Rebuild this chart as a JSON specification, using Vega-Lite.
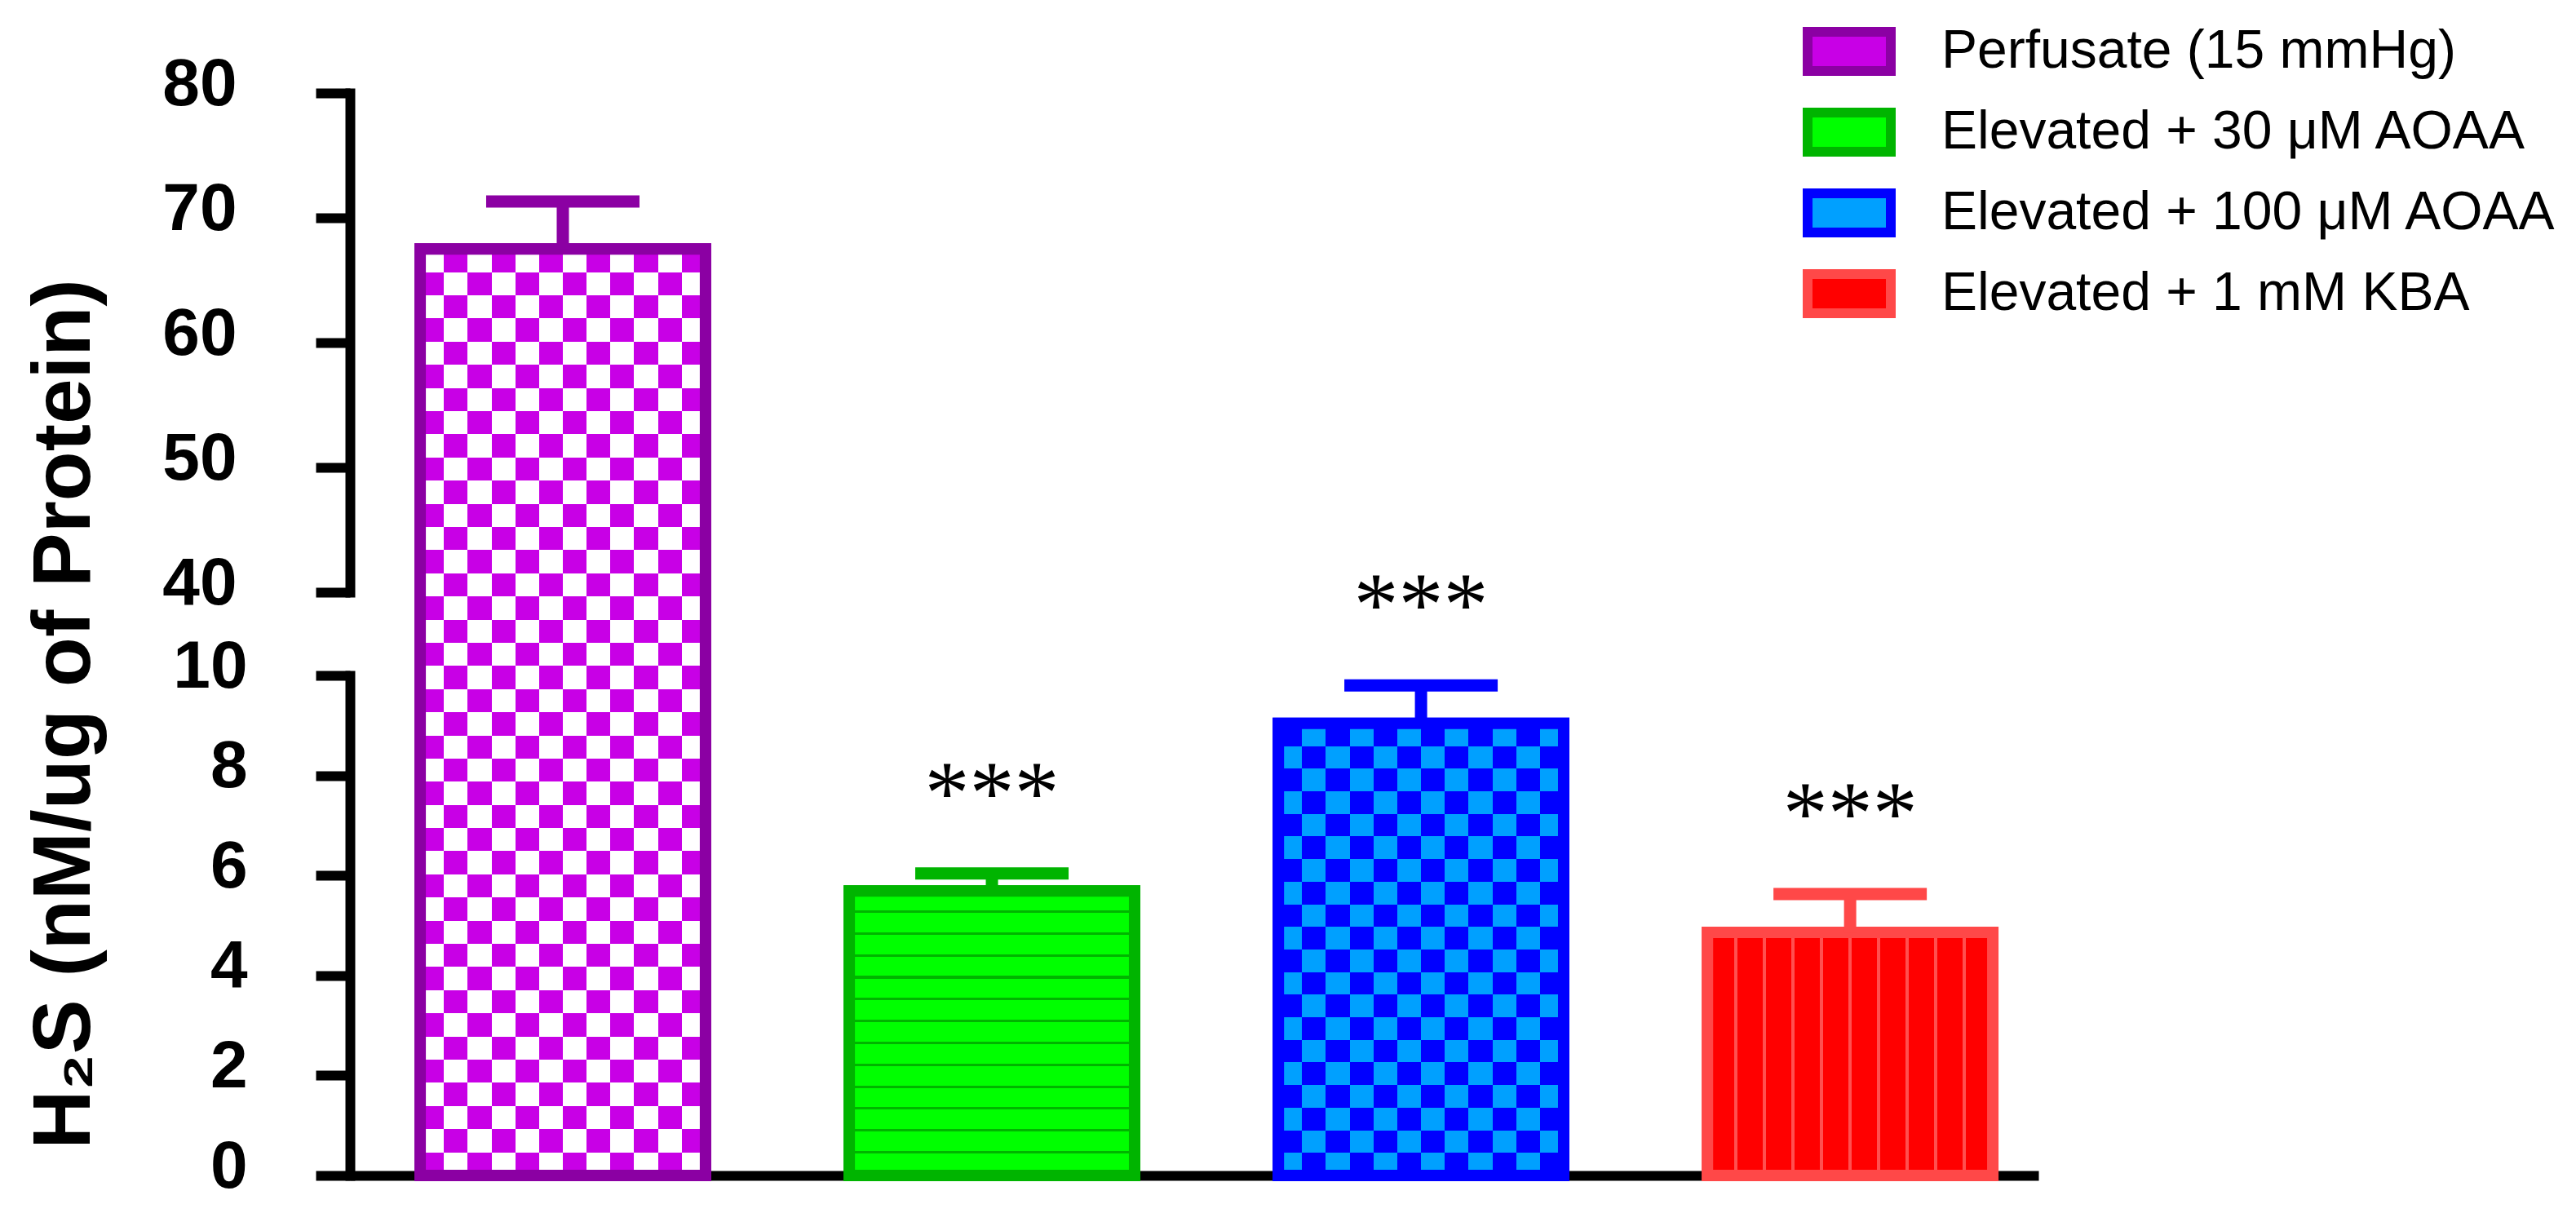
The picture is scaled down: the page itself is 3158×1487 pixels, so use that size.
{
  "$schema": "https://vega.github.io/schema/vega-lite/v6.json",
  "autosize": {"type": "none"},
  "padding": {"left": 429, "top": 114, "right": 659, "bottom": 46},
  "width": 2070,
  "height": 1327,
  "background": "white",
  "data": {"values": [
    {"group": "Perfusate (15 mmHg)", "value": 67.5, "upper": 71.3, "stars": ""},
    {"group": "Elevated + 30 μM AOAA", "value": 5.69, "upper": 6.04, "stars": "***"},
    {"group": "Elevated + 100 μM AOAA", "value": 9.04, "upper": 9.8, "stars": "***"},
    {"group": "Elevated + 1 mM KBA", "value": 4.86, "upper": 5.63, "stars": "***"}
  ]},
  "resolve": {"scale": {"y": "independent"}, "axis": {"y": "independent"}},
  "layer": [
    {
      "encoding": {
        "x": {"field": "group", "type": "nominal", "sort": null,
              "scale": {"paddingInner": 0.335, "paddingOuter": 0.135, "align": 0.606},
              "axis": {"title": null, "labels": false, "ticks": false, "domain": true, "domainColor": "#000", "domainWidth": 12, "grid": false}},
        "y": {"field": "value", "type": "quantitative",
              "scale": {"domain": [0, 10, 40, 80], "range": [1327, 714, 612, 0], "nice": false, "zero": false},
              "axis": null}
      },
      "layer": [
        {
          "mark": {"type": "bar", "strokeWidth": 14},
          "encoding": {
            "fill": {"field": "group", "type": "nominal",
                     "scale": {"domain": ["Perfusate (15 mmHg)", "Elevated + 30 μM AOAA", "Elevated + 100 μM AOAA", "Elevated + 1 mM KBA"],
                               "range": ["#c800e6", "#00ff00", "#00a0ff", "#ff0000"]},
                     "legend": {"title": null, "orient": "none", "legendX": 1787, "legendY": -102, "padding": 0,
                                "symbolType": "M-1.133,-0.533H1.133V0.533H-1.133Z", "symbolSize": 8100, "symbolStrokeWidth": 12, "symbolOpacity": 1,
                                "labelFont": "Liberation Sans", "labelFontSize": 66, "labelColor": "#000", "labelOffset": 62,
                                "labelLimit": 2000, "rowPadding": -3}},
            "stroke": {"field": "group", "type": "nominal",
                       "scale": {"domain": ["Perfusate (15 mmHg)", "Elevated + 30 μM AOAA", "Elevated + 100 μM AOAA", "Elevated + 1 mM KBA"],
                                 "range": ["#8b00a3", "#00b400", "#0000ff", "#ff4848"]},
                       "legend": {"title": null, "orient": "none", "legendX": 1787, "legendY": -102, "padding": 0,
                                  "symbolType": "M-1.133,-0.533H1.133V0.533H-1.133Z", "symbolSize": 8100, "symbolStrokeWidth": 12, "symbolOpacity": 1,
                                  "labelFont": "Liberation Sans", "labelFontSize": 66, "labelColor": "#000", "labelOffset": 62,
                                  "labelLimit": 2000, "rowPadding": -3}}
          }
        },
        {
          "transform": [{"filter": "datum.group === 'Perfusate (15 mmHg)'"}],
          "layer": [
            {"mark": {"type": "bar", "fill": {"gradient": "linear", "x1": 0, "y1": 0, "x2": 0, "y2": 1, "stops": [
              {"offset":0,"color":"#fff"},{"offset":0.025,"color":"#fff"},
              {"offset":0.025,"color":"#000"},{"offset":0.05,"color":"#000"},
              {"offset":0.05,"color":"#fff"},{"offset":0.075,"color":"#fff"},
              {"offset":0.075,"color":"#000"},{"offset":0.1,"color":"#000"},
              {"offset":0.1,"color":"#fff"},{"offset":0.125,"color":"#fff"},
              {"offset":0.125,"color":"#000"},{"offset":0.15,"color":"#000"},
              {"offset":0.15,"color":"#fff"},{"offset":0.175,"color":"#fff"},
              {"offset":0.175,"color":"#000"},{"offset":0.2,"color":"#000"},
              {"offset":0.2,"color":"#fff"},{"offset":0.225,"color":"#fff"},
              {"offset":0.225,"color":"#000"},{"offset":0.25,"color":"#000"},
              {"offset":0.25,"color":"#fff"},{"offset":0.275,"color":"#fff"},
              {"offset":0.275,"color":"#000"},{"offset":0.3,"color":"#000"},
              {"offset":0.3,"color":"#fff"},{"offset":0.325,"color":"#fff"},
              {"offset":0.325,"color":"#000"},{"offset":0.35,"color":"#000"},
              {"offset":0.35,"color":"#fff"},{"offset":0.375,"color":"#fff"},
              {"offset":0.375,"color":"#000"},{"offset":0.4,"color":"#000"},
              {"offset":0.4,"color":"#fff"},{"offset":0.425,"color":"#fff"},
              {"offset":0.425,"color":"#000"},{"offset":0.45,"color":"#000"},
              {"offset":0.45,"color":"#fff"},{"offset":0.475,"color":"#fff"},
              {"offset":0.475,"color":"#000"},{"offset":0.5,"color":"#000"},
              {"offset":0.5,"color":"#fff"},{"offset":0.525,"color":"#fff"},
              {"offset":0.525,"color":"#000"},{"offset":0.55,"color":"#000"},
              {"offset":0.55,"color":"#fff"},{"offset":0.575,"color":"#fff"},
              {"offset":0.575,"color":"#000"},{"offset":0.6,"color":"#000"},
              {"offset":0.6,"color":"#fff"},{"offset":0.625,"color":"#fff"},
              {"offset":0.625,"color":"#000"},{"offset":0.65,"color":"#000"},
              {"offset":0.65,"color":"#fff"},{"offset":0.675,"color":"#fff"},
              {"offset":0.675,"color":"#000"},{"offset":0.7,"color":"#000"},
              {"offset":0.7,"color":"#fff"},{"offset":0.725,"color":"#fff"},
              {"offset":0.725,"color":"#000"},{"offset":0.75,"color":"#000"},
              {"offset":0.75,"color":"#fff"},{"offset":0.775,"color":"#fff"},
              {"offset":0.775,"color":"#000"},{"offset":0.8,"color":"#000"},
              {"offset":0.8,"color":"#fff"},{"offset":0.825,"color":"#fff"},
              {"offset":0.825,"color":"#000"},{"offset":0.85,"color":"#000"},
              {"offset":0.85,"color":"#fff"},{"offset":0.875,"color":"#fff"},
              {"offset":0.875,"color":"#000"},{"offset":0.9,"color":"#000"},
              {"offset":0.9,"color":"#fff"},{"offset":0.925,"color":"#fff"},
              {"offset":0.925,"color":"#000"},{"offset":0.95,"color":"#000"},
              {"offset":0.95,"color":"#fff"},{"offset":0.975,"color":"#fff"},
              {"offset":0.975,"color":"#000"},{"offset":1,"color":"#000"}
            ]}}},
            {"mark": {"type": "bar", "blend": "difference", "fill": {"gradient": "linear", "x1": 0, "y1": 0, "x2": 1, "y2": 0, "stops": [
              {"offset":0,"color":"#000"},{"offset":0.0833,"color":"#000"},
              {"offset":0.0833,"color":"#fff"},{"offset":0.1667,"color":"#fff"},
              {"offset":0.1667,"color":"#000"},{"offset":0.25,"color":"#000"},
              {"offset":0.25,"color":"#fff"},{"offset":0.3333,"color":"#fff"},
              {"offset":0.3333,"color":"#000"},{"offset":0.4167,"color":"#000"},
              {"offset":0.4167,"color":"#fff"},{"offset":0.5,"color":"#fff"},
              {"offset":0.5,"color":"#000"},{"offset":0.5833,"color":"#000"},
              {"offset":0.5833,"color":"#fff"},{"offset":0.6667,"color":"#fff"},
              {"offset":0.6667,"color":"#000"},{"offset":0.75,"color":"#000"},
              {"offset":0.75,"color":"#fff"},{"offset":0.8333,"color":"#fff"},
              {"offset":0.8333,"color":"#000"},{"offset":0.9167,"color":"#000"},
              {"offset":0.9167,"color":"#fff"},{"offset":1,"color":"#fff"}
            ]}}},
            {"mark": {"type": "bar", "blend": "screen", "fill": "#c800e6"}}
          ]
        },
        {
          "transform": [{"filter": "datum.group === 'Elevated + 100 μM AOAA'"}],
          "layer": [
            {"mark": {"type": "bar", "fill": {"gradient": "linear", "x1": 0, "y1": 0, "x2": 0, "y2": 1, "stops": [
              {"offset":0,"color":"#0000ff"},{"offset":0.05,"color":"#0000ff"},
              {"offset":0.05,"color":"#00a0ff"},{"offset":0.1,"color":"#00a0ff"},
              {"offset":0.1,"color":"#0000ff"},{"offset":0.15,"color":"#0000ff"},
              {"offset":0.15,"color":"#00a0ff"},{"offset":0.2,"color":"#00a0ff"},
              {"offset":0.2,"color":"#0000ff"},{"offset":0.25,"color":"#0000ff"},
              {"offset":0.25,"color":"#00a0ff"},{"offset":0.3,"color":"#00a0ff"},
              {"offset":0.3,"color":"#0000ff"},{"offset":0.35,"color":"#0000ff"},
              {"offset":0.35,"color":"#00a0ff"},{"offset":0.4,"color":"#00a0ff"},
              {"offset":0.4,"color":"#0000ff"},{"offset":0.45,"color":"#0000ff"},
              {"offset":0.45,"color":"#00a0ff"},{"offset":0.5,"color":"#00a0ff"},
              {"offset":0.5,"color":"#0000ff"},{"offset":0.55,"color":"#0000ff"},
              {"offset":0.55,"color":"#00a0ff"},{"offset":0.6,"color":"#00a0ff"},
              {"offset":0.6,"color":"#0000ff"},{"offset":0.65,"color":"#0000ff"},
              {"offset":0.65,"color":"#00a0ff"},{"offset":0.7,"color":"#00a0ff"},
              {"offset":0.7,"color":"#0000ff"},{"offset":0.75,"color":"#0000ff"},
              {"offset":0.75,"color":"#00a0ff"},{"offset":0.8,"color":"#00a0ff"},
              {"offset":0.8,"color":"#0000ff"},{"offset":0.85,"color":"#0000ff"},
              {"offset":0.85,"color":"#00a0ff"},{"offset":0.9,"color":"#00a0ff"},
              {"offset":0.9,"color":"#0000ff"},{"offset":0.95,"color":"#0000ff"},
              {"offset":0.95,"color":"#00a0ff"},{"offset":1,"color":"#00a0ff"}
            ]}}},
            {"mark": {"type": "bar", "blend": "difference", "fill": {"gradient": "linear", "x1": 0, "y1": 0, "x2": 1, "y2": 0, "stops": [
              {"offset":0,"color":"#000"},{"offset":0.0833,"color":"#000"},
              {"offset":0.0833,"color":"#00a000"},{"offset":0.1667,"color":"#00a000"},
              {"offset":0.1667,"color":"#000"},{"offset":0.25,"color":"#000"},
              {"offset":0.25,"color":"#00a000"},{"offset":0.3333,"color":"#00a000"},
              {"offset":0.3333,"color":"#000"},{"offset":0.4167,"color":"#000"},
              {"offset":0.4167,"color":"#00a000"},{"offset":0.5,"color":"#00a000"},
              {"offset":0.5,"color":"#000"},{"offset":0.5833,"color":"#000"},
              {"offset":0.5833,"color":"#00a000"},{"offset":0.6667,"color":"#00a000"},
              {"offset":0.6667,"color":"#000"},{"offset":0.75,"color":"#000"},
              {"offset":0.75,"color":"#00a000"},{"offset":0.8333,"color":"#00a000"},
              {"offset":0.8333,"color":"#000"},{"offset":0.9167,"color":"#000"},
              {"offset":0.9167,"color":"#00a000"},{"offset":1,"color":"#00a000"}
            ]}}}
          ]
        },
        {
          "transform": [{"filter": "datum.group === 'Elevated + 30 μM AOAA'"}],
          "mark": {"type": "bar", "fill": {"gradient": "linear", "x1": 0, "y1": 0, "x2": 0, "y2": 1, "stops": [
            {"offset":0,"color":"#00ff00"},{"offset":0.0679,"color":"#00ff00"},{"offset":0.0679,"color":"#00b400"},{"offset":0.0769,"color":"#00b400"},
            {"offset":0.0769,"color":"#00ff00"},{"offset":0.1448,"color":"#00ff00"},{"offset":0.1448,"color":"#00b400"},{"offset":0.1538,"color":"#00b400"},
            {"offset":0.1538,"color":"#00ff00"},{"offset":0.2218,"color":"#00ff00"},{"offset":0.2218,"color":"#00b400"},{"offset":0.2308,"color":"#00b400"},
            {"offset":0.2308,"color":"#00ff00"},{"offset":0.2987,"color":"#00ff00"},{"offset":0.2987,"color":"#00b400"},{"offset":0.3077,"color":"#00b400"},
            {"offset":0.3077,"color":"#00ff00"},{"offset":0.3756,"color":"#00ff00"},{"offset":0.3756,"color":"#00b400"},{"offset":0.3846,"color":"#00b400"},
            {"offset":0.3846,"color":"#00ff00"},{"offset":0.4525,"color":"#00ff00"},{"offset":0.4525,"color":"#00b400"},{"offset":0.4615,"color":"#00b400"},
            {"offset":0.4615,"color":"#00ff00"},{"offset":0.5295,"color":"#00ff00"},{"offset":0.5295,"color":"#00b400"},{"offset":0.5385,"color":"#00b400"},
            {"offset":0.5385,"color":"#00ff00"},{"offset":0.6064,"color":"#00ff00"},{"offset":0.6064,"color":"#00b400"},{"offset":0.6154,"color":"#00b400"},
            {"offset":0.6154,"color":"#00ff00"},{"offset":0.6833,"color":"#00ff00"},{"offset":0.6833,"color":"#00b400"},{"offset":0.6923,"color":"#00b400"},
            {"offset":0.6923,"color":"#00ff00"},{"offset":0.7602,"color":"#00ff00"},{"offset":0.7602,"color":"#00b400"},{"offset":0.7692,"color":"#00b400"},
            {"offset":0.7692,"color":"#00ff00"},{"offset":0.8372,"color":"#00ff00"},{"offset":0.8372,"color":"#00b400"},{"offset":0.8462,"color":"#00b400"},
            {"offset":0.8462,"color":"#00ff00"},{"offset":0.9141,"color":"#00ff00"},{"offset":0.9141,"color":"#00b400"},{"offset":0.9231,"color":"#00b400"},
            {"offset":0.9231,"color":"#00ff00"},{"offset":0.991,"color":"#00ff00"},{"offset":0.991,"color":"#00b400"},{"offset":1,"color":"#00b400"}
          ]}}
        },
        {
          "transform": [{"filter": "datum.group === 'Elevated + 1 mM KBA'"}],
          "mark": {"type": "bar", "fill": {"gradient": "linear", "x1": 0, "y1": 0, "x2": 1, "y2": 0, "stops": [
            {"offset":0,"color":"#ff0000"},{"offset":0.094,"color":"#ff0000"},{"offset":0.094,"color":"#ff5050"},{"offset":0.106,"color":"#ff5050"},
            {"offset":0.106,"color":"#ff0000"},{"offset":0.194,"color":"#ff0000"},{"offset":0.194,"color":"#ff5050"},{"offset":0.206,"color":"#ff5050"},
            {"offset":0.206,"color":"#ff0000"},{"offset":0.294,"color":"#ff0000"},{"offset":0.294,"color":"#ff5050"},{"offset":0.306,"color":"#ff5050"},
            {"offset":0.306,"color":"#ff0000"},{"offset":0.394,"color":"#ff0000"},{"offset":0.394,"color":"#ff5050"},{"offset":0.406,"color":"#ff5050"},
            {"offset":0.406,"color":"#ff0000"},{"offset":0.494,"color":"#ff0000"},{"offset":0.494,"color":"#ff5050"},{"offset":0.506,"color":"#ff5050"},
            {"offset":0.506,"color":"#ff0000"},{"offset":0.594,"color":"#ff0000"},{"offset":0.594,"color":"#ff5050"},{"offset":0.606,"color":"#ff5050"},
            {"offset":0.606,"color":"#ff0000"},{"offset":0.694,"color":"#ff0000"},{"offset":0.694,"color":"#ff5050"},{"offset":0.706,"color":"#ff5050"},
            {"offset":0.706,"color":"#ff0000"},{"offset":0.794,"color":"#ff0000"},{"offset":0.794,"color":"#ff5050"},{"offset":0.806,"color":"#ff5050"},
            {"offset":0.806,"color":"#ff0000"},{"offset":0.894,"color":"#ff0000"},{"offset":0.894,"color":"#ff5050"},{"offset":0.906,"color":"#ff5050"},
            {"offset":0.906,"color":"#ff0000"},{"offset":1,"color":"#ff0000"}
          ]}}
        },
        {
          "mark": {"type": "bar", "filled": false, "strokeWidth": 14},
          "encoding": {
            "color": {"field": "group", "type": "nominal",
                      "scale": {"domain": ["Perfusate (15 mmHg)", "Elevated + 30 μM AOAA", "Elevated + 100 μM AOAA", "Elevated + 1 mM KBA"],
                                "range": ["#8b00a3", "#00b400", "#0000ff", "#ff4848"]},
                      "legend": null}
          }
        },
        {
          "mark": {"type": "rule", "strokeWidth": 15, "opacity": 1},
          "encoding": {
            "y": {"field": "value", "type": "quantitative"},
            "y2": {"field": "upper"},
            "color": {"field": "group", "type": "nominal", "legend": null}
          }
        },
        {
          "mark": {"type": "tick", "size": 188, "thickness": 15, "filled": true, "opacity": 1},
          "encoding": {
            "y": {"field": "upper", "type": "quantitative"},
            "color": {"field": "group", "type": "nominal", "legend": null}
          }
        },
        {
          "mark": {"type": "text", "dy": -62, "baseline": "alphabetic", "align": "center", "font": "Liberation Serif", "fontSize": 110, "color": "#000"},
          "encoding": {
            "y": {"field": "upper", "type": "quantitative"},
            "text": {"field": "stars", "type": "nominal"}
          }
        }
      ]
    },
    {
      "mark": {"type": "rule", "opacity": 0},
      "encoding": {
        "y": {"datum": 0, "type": "quantitative",
              "scale": {"domain": [0, 10], "range": [1327, 714], "nice": false, "zero": false},
              "axis": {"orient": "left", "values": [0, 2, 4, 6, 8, 10], "labelPadding": 84,
                       "title": "H₂S (nM/ug of Protein)", "titleX": -320, "titleY": 761, "titleAngle": 270,
                       "titleAlign": "center", "titleBaseline": "alphabetic"}}
      }
    },
    {
      "mark": {"type": "rule", "opacity": 0},
      "encoding": {
        "y": {"datum": 40, "type": "quantitative",
              "scale": {"domain": [40, 80], "range": [612, 0], "nice": false, "zero": false},
              "axis": {"orient": "left", "values": [40, 50, 60, 70, 80], "labelPadding": 97, "title": null}}
      }
    }
  ],
  "config": {
    "view": {"stroke": null},
    "font": "Liberation Sans",
    "axisY": {
      "domainColor": "#000", "domainWidth": 12, "domainCap": "square",
      "tickColor": "#000", "tickWidth": 12, "tickSize": 42,
      "labelFont": "Liberation Sans", "labelFontSize": 82, "labelFontWeight": "bold", "labelColor": "#000",
      "labelAlign": "right", "labelBaseline": "middle", "labelOffset": -11,
      "titleFont": "Liberation Sans", "titleFontSize": 100, "titleFontWeight": "bold", "titleColor": "#000",
      "grid": false
    }
  }
}
